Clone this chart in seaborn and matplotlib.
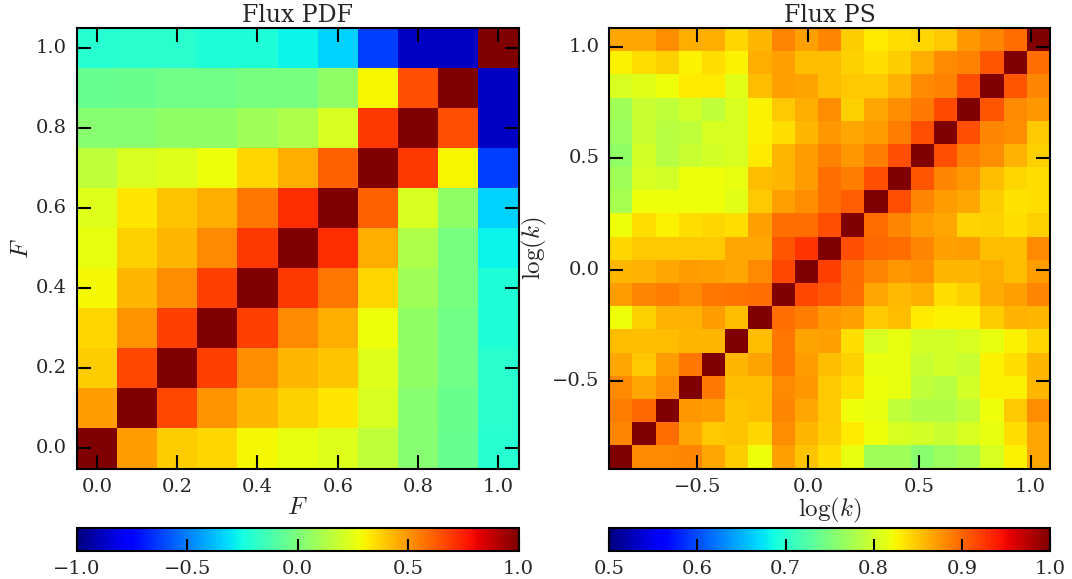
import numpy as np
import pandas as pd
import matplotlib
matplotlib.use("Agg")
import matplotlib.pyplot as plt
from matplotlib.ticker import FuncFormatter
import seaborn as sns

sns.set_style("white")
plt.rcParams['font.family'] = ['DejaVu Serif']
plt.rcParams['mathtext.fontset'] = 'cm'
plt.rcParams['axes.unicode_minus'] = True
plt.rcParams['axes.axisbelow'] = False

# ---------------- data ----------------
flux_F = [0.0, 0.1, 0.2, 0.3, 0.4, 0.5, 0.6, 0.7, 0.8, 0.9, 1.0]
# correlation matrix of flux PDF; rows F=0.0 (bottom) ... F=1.0 (top)
pdf_corr = [
    [1.00, 0.49, 0.39, 0.36, 0.29, 0.26, 0.24, 0.16, 0.03, -0.05, -0.21],
    [0.49, 1.00, 0.67, 0.50, 0.43, 0.38, 0.33, 0.22, 0.03, -0.04, -0.20],
    [0.39, 0.67, 1.00, 0.68, 0.52, 0.43, 0.40, 0.24, 0.05, -0.03, -0.20],
    [0.36, 0.50, 0.68, 1.00, 0.68, 0.53, 0.45, 0.28, 0.05, -0.03, -0.22],
    [0.29, 0.43, 0.52, 0.68, 1.00, 0.70, 0.57, 0.36, 0.09, -0.01, -0.22],
    [0.26, 0.38, 0.43, 0.53, 0.70, 1.00, 0.72, 0.45, 0.12, -0.01, -0.27],
    [0.24, 0.33, 0.40, 0.45, 0.57, 0.72, 1.00, 0.61, 0.22, 0.05, -0.34],
    [0.16, 0.22, 0.24, 0.28, 0.36, 0.45, 0.61, 1.00, 0.70, 0.30, -0.63],
    [0.03, 0.03, 0.05, 0.05, 0.09, 0.12, 0.22, 0.70, 1.00, 0.65, -0.88],
    [-0.05, -0.04, -0.03, -0.03, -0.01, -0.01, 0.05, 0.30, 0.65, 1.00, -0.88],
    [-0.21, -0.20, -0.20, -0.22, -0.22, -0.27, -0.34, -0.63, -0.88, -0.88, 1.00],
]

ps_logk = [-0.843, -0.739, -0.634, -0.530, -0.426, -0.321, -0.217, -0.113, -0.008,
           0.096, 0.200, 0.305, 0.409, 0.513, 0.617, 0.722, 0.826, 0.930, 1.035]
# correlation matrix of flux power spectrum; rows lowest log(k) (bottom) ... highest (top)
ps_corr = [
    [1.000, 0.881, 0.881, 0.883, 0.866, 0.847, 0.820, 0.870, 0.851, 0.836, 0.816, 0.773, 0.773, 0.758, 0.768, 0.777, 0.806, 0.827, 0.866],
    [0.883, 1.000, 0.898, 0.866, 0.849, 0.851, 0.841, 0.879, 0.858, 0.847, 0.832, 0.820, 0.806, 0.802, 0.796, 0.806, 0.816, 0.836, 0.866],
    [0.887, 0.900, 1.000, 0.874, 0.872, 0.851, 0.854, 0.883, 0.866, 0.849, 0.820, 0.816, 0.791, 0.782, 0.782, 0.791, 0.820, 0.849, 0.879],
    [0.881, 0.866, 0.879, 1.000, 0.889, 0.854, 0.854, 0.881, 0.874, 0.849, 0.836, 0.820, 0.816, 0.791, 0.787, 0.802, 0.828, 0.828, 0.858],
    [0.866, 0.849, 0.872, 0.892, 1.000, 0.858, 0.868, 0.892, 0.872, 0.854, 0.845, 0.816, 0.816, 0.796, 0.802, 0.796, 0.828, 0.836, 0.858],
    [0.854, 0.854, 0.854, 0.858, 0.858, 1.000, 0.854, 0.892, 0.868, 0.870, 0.836, 0.806, 0.816, 0.802, 0.802, 0.806, 0.816, 0.828, 0.841],
    [0.820, 0.845, 0.860, 0.860, 0.872, 0.854, 1.000, 0.896, 0.887, 0.874, 0.870, 0.849, 0.854, 0.832, 0.828, 0.828, 0.847, 0.860, 0.858],
    [0.872, 0.883, 0.887, 0.881, 0.892, 0.894, 0.896, 1.000, 0.917, 0.909, 0.896, 0.866, 0.856, 0.862, 0.836, 0.845, 0.864, 0.870, 0.883],
    [0.858, 0.860, 0.866, 0.872, 0.870, 0.866, 0.881, 0.917, 1.000, 0.921, 0.898, 0.883, 0.874, 0.877, 0.858, 0.858, 0.862, 0.854, 0.872],
    [0.841, 0.849, 0.849, 0.849, 0.849, 0.866, 0.866, 0.909, 0.926, 1.000, 0.913, 0.900, 0.898, 0.883, 0.870, 0.872, 0.854, 0.854, 0.881],
    [0.820, 0.836, 0.827, 0.836, 0.841, 0.836, 0.870, 0.896, 0.896, 0.913, 1.000, 0.898, 0.883, 0.872, 0.866, 0.843, 0.845, 0.836, 0.845],
    [0.777, 0.820, 0.820, 0.820, 0.820, 0.811, 0.849, 0.870, 0.879, 0.896, 0.906, 1.000, 0.913, 0.883, 0.872, 0.866, 0.847, 0.834, 0.836],
    [0.773, 0.806, 0.802, 0.820, 0.820, 0.816, 0.854, 0.858, 0.872, 0.896, 0.887, 0.913, 1.000, 0.910, 0.883, 0.874, 0.854, 0.841, 0.836],
    [0.763, 0.802, 0.787, 0.796, 0.802, 0.806, 0.832, 0.858, 0.872, 0.885, 0.874, 0.887, 0.913, 1.000, 0.913, 0.887, 0.879, 0.860, 0.845],
    [0.768, 0.796, 0.787, 0.791, 0.806, 0.806, 0.827, 0.836, 0.858, 0.874, 0.866, 0.872, 0.887, 0.913, 1.000, 0.913, 0.883, 0.879, 0.849],
    [0.773, 0.796, 0.791, 0.802, 0.791, 0.806, 0.827, 0.849, 0.862, 0.879, 0.845, 0.866, 0.879, 0.889, 0.915, 1.000, 0.909, 0.881, 0.874],
    [0.806, 0.811, 0.820, 0.832, 0.832, 0.811, 0.854, 0.870, 0.868, 0.854, 0.849, 0.849, 0.860, 0.881, 0.885, 0.913, 1.000, 0.909, 0.883],
    [0.827, 0.836, 0.845, 0.827, 0.836, 0.827, 0.862, 0.870, 0.854, 0.854, 0.845, 0.836, 0.847, 0.862, 0.881, 0.885, 0.909, 1.000, 0.896],
    [0.866, 0.866, 0.879, 0.862, 0.862, 0.841, 0.858, 0.883, 0.870, 0.883, 0.847, 0.832, 0.836, 0.841, 0.849, 0.874, 0.883, 0.898, 1.000],
]

pdf_ticks = [0.0, 0.2, 0.4, 0.6, 0.8, 1.0]
ps_ticks = [-0.5, 0.0, 0.5, 1.0]
pdf_cbar_ticks = [-1.0, -0.5, 0.0, 0.5, 1.0]
ps_cbar_ticks = [0.5, 0.6, 0.7, 0.8, 0.9, 1.0]

# ---------------- layout ----------------
W, H = 1072, 579
fig = plt.figure(figsize=(W / 100, H / 100), dpi=100)
fig.patch.set_facecolor('white')


def box(x0, y0, x1, y1):
    return [x0 / W, 1 - y1 / H, (x1 - x0) / W, (y1 - y0) / H]


ax1 = fig.add_axes(box(76.7, 28, 518.5, 468.5))
ax2 = fig.add_axes(box(609.3, 28, 1050.0, 468.5))
cax1 = fig.add_axes(box(76.7, 527.5, 518.5, 550.7))
cax2 = fig.add_axes(box(609.3, 527.5, 1050.0, 550.7))


def fmt(v, p=None):
    return f"{v + 0.0:.1f}".replace('-', '\u2212')


def data_pos(vals, centers):
    d = (centers[-1] - centers[0]) / (len(centers) - 1)
    return [(v - centers[0]) / d + 0.5 for v in vals]


def draw(ax, cax, mat, centers, vmin, vmax, ticks, cticks, title, label):
    df = pd.DataFrame(mat, index=centers, columns=centers)
    sns.heatmap(df, ax=ax, cmap='jet', vmin=vmin, vmax=vmax, cbar_ax=cax,
                cbar_kws=dict(orientation='horizontal', ticks=cticks),
                linewidths=0, square=False)
    ax.invert_yaxis()
    n = len(centers)
    ax.set_xlim(0, n)
    ax.set_ylim(0, n)
    ax.set_axisbelow(False)
    p = data_pos(ticks, centers)
    ax.set_xticks(p)
    ax.set_yticks(p)
    ax.set_xticklabels([fmt(t) for t in ticks], rotation=0)
    ax.set_yticklabels([fmt(t) for t in ticks], rotation=0)
    ax.tick_params(direction='in', length=10, width=1.5, top=True, right=True,
                   bottom=True, left=True, labelsize=14, pad=7, color='black')
    for s in ax.spines.values():
        s.set_visible(True)
        s.set_linewidth(1.5)
        s.set_color('black')
        s.set_zorder(5)
    ax.set_title(title, fontsize=17, pad=4)
    ax.set_xlabel(label, fontsize=18, labelpad=0)
    ax.set_ylabel(label, fontsize=18, labelpad=2)

    cb = ax.collections[0].colorbar
    cb.outline.set_linewidth(1.5)
    cb.outline.set_edgecolor('black')
    cb.ax.set_axisbelow(False)
    cb.ax.xaxis.set_major_formatter(FuncFormatter(fmt))
    cb.ax.tick_params(direction='in', length=9, width=1.5, bottom=True, top=False,
                      labelsize=14, pad=7, color='black')


draw(ax1, cax1, pdf_corr, flux_F, -1.0, 1.0, pdf_ticks, pdf_cbar_ticks,
     'Flux PDF', r'$F$')
draw(ax2, cax2, ps_corr, ps_logk, 0.5, 1.0, ps_ticks, ps_cbar_ticks,
     'Flux PS', r'$\log(k)$')

fig.savefig('out.png', dpi=100, facecolor='white')
